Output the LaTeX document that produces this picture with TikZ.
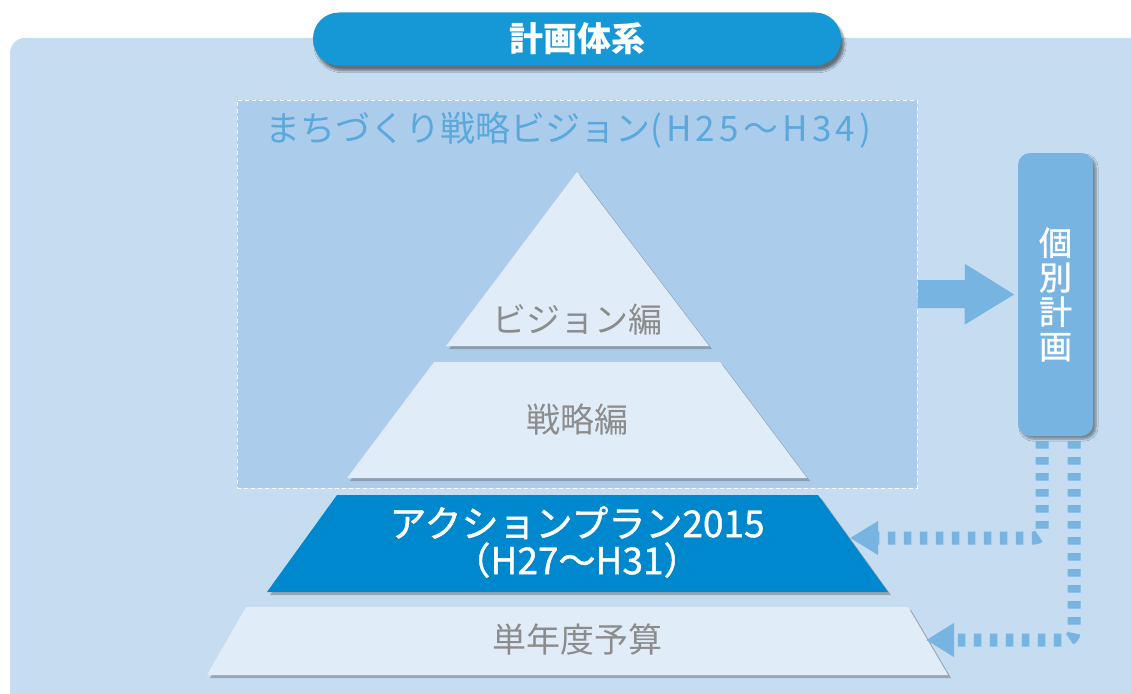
\documentclass[tikz,border=0pt]{standalone}
\usepackage{fontspec}
\setmainfont{Noto Sans CJK JP}
\newfontfamily\medfont[FakeBold=1.2]{Noto Sans CJK JP}
\usetikzlibrary{shadows,shadows.blur,arrows.meta}
\definecolor{bgpanel}{HTML}{C6DCF0}
\definecolor{visfill}{HTML}{ABCDEB}
\definecolor{lightpyr}{HTML}{E0EDF8}
\definecolor{darkpyr}{HTML}{0088CE}
\definecolor{pillblue}{HTML}{1598D5}
\definecolor{midblue}{HTML}{78B4E2}
\definecolor{vistext}{HTML}{5AA8DC}
\definecolor{graytext}{HTML}{8C8C8C}
\begin{document}
\begin{tikzpicture}[x=1pt,y=-1pt,
  pyrshadow/.style={drop shadow={shadow xshift=3pt,shadow yshift=-3pt,opacity=0.45,fill=black!60}},
  lightpiece/.style={fill=lightpyr,pyrshadow},
  darkpiece/.style={fill=darkpyr,pyrshadow},
  pyrtext/.style={text=graytext,font=\fontsize{34}{38}\selectfont,inner sep=0pt},
  pill/.style={fill=pillblue,rounded corners=26pt,minimum width=528pt,minimum height=53pt,
    text=white,font=\fontsize{34}{38}\selectfont\bfseries,
    blur shadow={shadow xshift=3pt,shadow yshift=-5pt,shadow blur steps=8,shadow opacity=50}},
  visbox/.style={fill=visfill,draw=white,line width=1pt,dash pattern=on 4pt off 3pt,
    minimum width=680pt,minimum height=388pt,inner sep=0pt},
  kobetsu/.style={fill=midblue,rounded corners=12pt,minimum width=75pt,minimum height=283pt,
    text=white,align=center,font=\fontsize{33}{34.5}\selectfont\medfont,
    blur shadow={shadow xshift=3pt,shadow yshift=-3pt,shadow blur steps=6,shadow opacity=40}},
  bigarrow/.style={midblue,line width=28pt,-{Triangle[length=50pt,width=57pt]},shorten >=3pt},
  dotline/.style={midblue,line width=13pt,dash pattern=on 7.5pt off 8.5pt,rounded corners=8pt,
    -{Triangle[length=28pt,width=32pt]}}
]
\useasboundingbox (0,0) rectangle (1131,693);
% background panel
\fill[bgpanel,rounded corners=15pt] (10,38) rectangle (1160,720);
% title pill
\node[pill] (title) at (577,39) {計画体系};
% vision box
\node[visbox] (vis) at (577,294) {};
\node[anchor=west,text=vistext,font=\fontsize{35}{40}\selectfont,inner sep=0pt] (vistitle) at (265,130) {まちづくり戦略ビジョン{\addfontfeature{LetterSpace=12}(H25～H34)}};
% pyramid
\fill[lightpiece] (577,172) -- (709,346) -- (446,346) -- cycle;
\fill[lightpiece] (434,362) -- (720,362) -- (807,478) -- (347,478) -- cycle;
\fill[darkpiece] (337,495) -- (818,495) -- (888,592) -- (267,592) -- cycle;
\fill[lightpiece] (246,607) -- (908,607) -- (948,675) -- (207,675) -- cycle;
\node[pyrtext] (t1) at (577,320) {ビジョン編};
\node[pyrtext] (t2) at (577,420) {戦略編};
\node[text=white,font=\fontsize{37}{37}\selectfont\medfont,align=center,inner sep=0pt] (t3) at (577,542) {アクションプラン2015\\（H27～H31）};
\node[pyrtext] (t4) at (577,640) {単年度予算};
% individual plans
\node[kobetsu] (kb) at (1055.5,294.5) {個\\別\\計\\画};
\draw[bigarrow] (vis.east) -- (kb.west);
\coordinate (aptip) at (850,538);
\coordinate (budtip) at (926,640);
\draw[dotline] ([xshift=-13.5pt,yshift=-5pt]kb.south) |- (aptip);
\draw[dotline] ([xshift=18.5pt,yshift=-5pt]kb.south) |- (budtip);
\end{tikzpicture}
\end{document}
